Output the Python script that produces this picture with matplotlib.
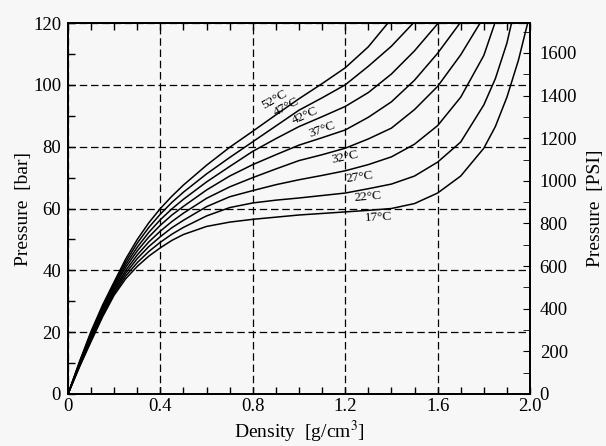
import matplotlib
matplotlib.use('Agg')
import matplotlib.pyplot as plt
import numpy as np

plt.rcParams['font.family'] = 'Liberation Serif'
plt.rcParams['mathtext.fontset'] = 'stix'

# Isotherms: density [g/cm3] vs pressure [bar]
dens_52 = [0, 0.05, 0.1, 0.15, 0.2, 0.25, 0.3, 0.35, 0.4, 0.45, 0.5, 0.6, 0.7, 0.8, 0.9, 1.0, 1.1, 1.2, 1.3, 1.385]
pres_52 = [0, 10.5, 20.3, 28.8, 36.3, 43.7, 50.0, 55.4, 60.0, 64.0, 67.6, 74.0, 79.8, 85.0, 90.3, 95.5, 100.4, 105.5, 112.3, 120]

dens_47 = [0, 0.05, 0.1, 0.15, 0.2, 0.25, 0.3, 0.35, 0.4, 0.45, 0.5, 0.6, 0.7, 0.8, 0.9, 1.0, 1.1, 1.2, 1.3, 1.4, 1.495]
pres_47 = [0, 10.3, 19.8, 28.3, 35.7, 42.8, 48.8, 53.9, 58.2, 62.0, 65.3, 71.2, 76.5, 81.6, 86.7, 91.8, 95.8, 100.0, 106.0, 112.5, 120]

dens_42 = [0, 0.05, 0.1, 0.15, 0.2, 0.25, 0.3, 0.35, 0.4, 0.45, 0.5, 0.6, 0.7, 0.8, 0.9, 1.0, 1.1, 1.2, 1.3, 1.4, 1.5, 1.603]
pres_42 = [0, 10.0, 19.4, 27.7, 35.1, 41.9, 47.5, 52.3, 56.4, 59.9, 63.0, 68.6, 73.6, 78.5, 82.6, 86.5, 89.7, 93.0, 97.5, 103.5, 111.0, 120]

dens_37 = [0, 0.05, 0.1, 0.15, 0.2, 0.25, 0.3, 0.35, 0.4, 0.45, 0.5, 0.6, 0.7, 0.8, 0.9, 1.0, 1.1, 1.2, 1.3, 1.4, 1.5, 1.6, 1.697]
pres_37 = [0, 9.8, 18.9, 27.2, 34.5, 41.0, 46.3, 50.8, 54.6, 57.9, 60.7, 66.0, 70.5, 74.2, 77.4, 80.5, 82.9, 85.4, 89.5, 94.5, 101.5, 110.2, 120]

dens_32 = [0, 0.05, 0.1, 0.15, 0.2, 0.25, 0.3, 0.35, 0.4, 0.45, 0.5, 0.6, 0.7, 0.8, 0.9, 1.0, 1.1, 1.2, 1.3, 1.4, 1.5, 1.6, 1.7, 1.784]
pres_32 = [0, 9.5, 18.4, 26.6, 33.8, 40.0, 45.0, 49.2, 52.7, 55.8, 58.5, 63.3, 67.0, 70.0, 72.8, 75.5, 77.4, 79.5, 82.5, 86.0, 92.0, 99.5, 109.7, 120]

dens_27 = [0, 0.05, 0.1, 0.15, 0.2, 0.25, 0.3, 0.35, 0.4, 0.45, 0.5, 0.6, 0.7, 0.8, 0.9, 1.0, 1.1, 1.2, 1.3, 1.4, 1.5, 1.6, 1.7, 1.8, 1.848]
pres_27 = [0, 9.3, 17.9, 26.1, 33.2, 39.1, 43.8, 47.7, 50.9, 53.8, 56.2, 60.6, 63.8, 65.8, 67.7, 69.3, 70.7, 72.2, 74.2, 76.7, 80.8, 86.8, 96.0, 109.5, 120]

dens_22 = [0, 0.05, 0.1, 0.15, 0.2, 0.25, 0.3, 0.35, 0.4, 0.45, 0.5, 0.6, 0.7, 0.8, 0.9, 1.0, 1.1, 1.2, 1.3, 1.4, 1.5, 1.6, 1.7, 1.8, 1.85, 1.9, 1.92]
pres_22 = [0, 9.0, 17.5, 25.5, 32.6, 38.2, 42.5, 46.1, 49.1, 51.7, 53.9, 57.6, 60.3, 61.8, 62.7, 63.4, 64.2, 65.0, 66.4, 67.9, 70.5, 75.0, 81.5, 93.5, 102.0, 113.5, 120]

dens_17 = [0, 0.05, 0.1, 0.15, 0.2, 0.25, 0.3, 0.35, 0.4, 0.45, 0.5, 0.6, 0.7, 0.8, 0.9, 1.0, 1.1, 1.2, 1.3, 1.4, 1.5, 1.6, 1.7, 1.8, 1.85, 1.9, 1.95, 1.99]
pres_17 = [0, 8.8, 17.0, 25.0, 32.0, 37.3, 41.3, 44.6, 47.3, 49.7, 51.6, 54.2, 55.6, 56.5, 57.2, 57.9, 58.4, 58.9, 59.4, 60.0, 61.6, 65.0, 70.5, 79.5, 86.5, 96.0, 108.0, 120]

curves = [(dens_52, pres_52), (dens_47, pres_47), (dens_42, pres_42), (dens_37, pres_37),
          (dens_32, pres_32), (dens_27, pres_27), (dens_22, pres_22), (dens_17, pres_17)]

# curve labels: text, density, pressure, angle
label_text = ['52°C', '47°C', '42°C', '37°C', '32°C', '27°C', '22°C', '17°C']
label_dens = [0.896, 0.944, 1.026, 1.100, 1.199, 1.264, 1.299, 1.342]
label_pres = [95.3, 92.9, 89.9, 85.6, 76.6, 70.2, 63.7, 57.0]
label_rot = [30, 28, 24, 20, 12, 8, 5, 3]

x_ticks = [0, 0.4, 0.8, 1.2, 1.6, 2.0]
x_ticklabels = ['0', '0.4', '0.8', '1.2', '1.6', '2.0']
bar_to_psi = 14.5038

bg = '#f7f7f7'
fig = plt.figure(figsize=(6.06, 4.46), dpi=100, facecolor=bg)
ax = fig.add_axes([0.1122, 0.1166, 0.7624, 0.8318], facecolor=bg)

for d, p in curves:
    ax.plot(d, p, color='black', lw=1.1)

for t, d, p, r in zip(label_text, label_dens, label_pres, label_rot):
    ax.text(d, p, t, rotation=r, fontsize=9.5, ha='center', va='center', rotation_mode='anchor')

ax.set_xlim(0, 2.0)
ax.set_ylim(0, 120)
ax.set_xticks(x_ticks)
ax.set_xticklabels(x_ticklabels)
ax.set_xticks(np.arange(0, 2.01, 0.1), minor=True)
ax.set_yticks(np.arange(0, 121, 20))
ax.set_yticks(np.arange(0, 121, 10), minor=True)
ax.tick_params(which='both', direction='in', top=True, labelsize=13.5, width=1, length=5)
ax.tick_params(axis='y', which='major', pad=5)
ax.tick_params(axis='x', which='major', pad=3)
ax.grid(True, which='major', color='black', linestyle=(0, (6, 3)), lw=0.9)
for s in ax.spines.values():
    s.set_linewidth(1.3)

ax.set_xlabel('Density  [g/cm$^3$]', fontsize=14, labelpad=3)
ax.set_ylabel('Pressure  [bar]', fontsize=14, labelpad=1)

ax2 = ax.twinx()
ax2.set_ylim(0, 120 * bar_to_psi)
ax2.set_yticks(np.arange(0, 1601, 200))
ax2.set_yticks(np.arange(0, 1701, 100), minor=True)
ax2.tick_params(which='both', direction='in', length=5, labelsize=13.5, pad=7)
ax2.set_ylabel('Pressure  [PSI]', fontsize=14, labelpad=7)
for s in ax2.spines.values():
    s.set_linewidth(1.3)

fig.savefig('out.png', dpi=100, facecolor=bg)
